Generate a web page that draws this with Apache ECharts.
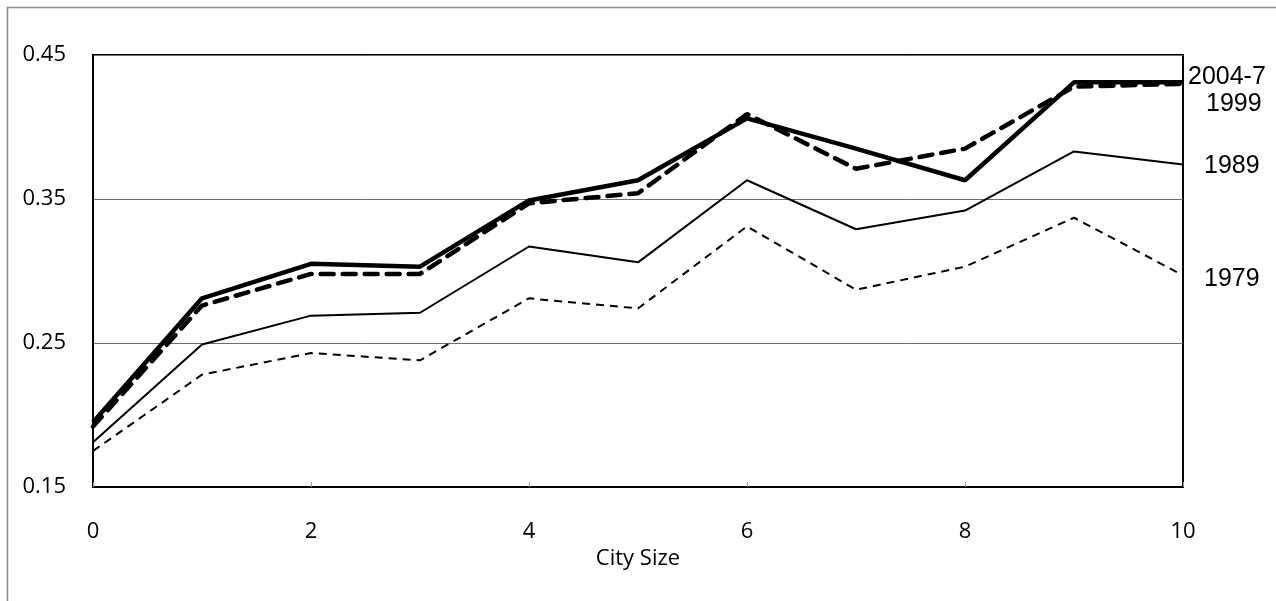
<!DOCTYPE html>
<html>
<head>
<meta charset="utf-8">
<script src="https://cdn.jsdelivr.net/npm/echarts@6/dist/echarts.min.js"></script>
<style>
  html, body { margin: 0; padding: 0; background: #fff; }
  #main { width: 1276px; height: 601px; }
</style>
</head>
<body>
<div id="main"></div>
<script>
// city size classes on the x axis
var citySize = [0, 1, 2, 3, 4, 5, 6, 7, 8, 9, 10];

// values, one per city size
var s2004 = [0.195, 0.281, 0.305, 0.303, 0.349, 0.363, 0.406, 0.385, 0.363, 0.431, 0.431];
var s1999 = [0.192, 0.276, 0.298, 0.298, 0.347, 0.354, 0.409, 0.371, 0.385, 0.428, 0.430];
var s1989 = [0.181, 0.249, 0.269, 0.271, 0.317, 0.306, 0.363, 0.329, 0.342, 0.383, 0.374];
var s1979 = [0.175, 0.228, 0.243, 0.238, 0.281, 0.274, 0.331, 0.287, 0.303, 0.337, 0.297];

var seriesNames = ['2004-7', '1999', '1989', '1979'];
var yTicks = [0.15, 0.25, 0.35, 0.45];

var pairs = function (vals) {
    return citySize.map(function (x, i) { return [x, vals[i]]; });
};

var tickFont = "'Open Sans', 'Liberation Sans', sans-serif";
var labelFont = "'Liberation Sans', Arial, sans-serif";

var endLabel = function (offset) {
    return {
        show: true,
        formatter: '{a}',
        color: '#000',
        fontFamily: labelFont,
        fontSize: 25,
        offset: offset
    };
};

var chart = echarts.init(document.getElementById('main'), null, { renderer: 'canvas' });

var option = {
    animation: false,
    backgroundColor: '#fff',
    grid: {
        left: 93, right: 93, top: 55, bottom: 114,
        show: true,
        borderColor: '#000',
        borderWidth: 2,
        containLabel: false
    },
    graphic: [{
        type: 'rect',
        left: 5, top: 5,
        shape: { width: 1270, height: 620 },
        style: { fill: 'none', stroke: '#8c8c8c', lineWidth: 1.5 },
        silent: true
    }],
    xAxis: {
        type: 'value',
        min: 0, max: 10, interval: 2,
        name: 'City Size',
        nameLocation: 'middle',
        nameGap: 48,
        nameTextStyle: { color: '#000', fontFamily: tickFont, fontSize: 22 },
        axisLine: { lineStyle: { color: '#000', width: 2 } },
        axisTick: { inside: true, length: 5, lineStyle: { color: '#999', width: 1 } },
        axisLabel: { color: '#000', fontFamily: tickFont, fontSize: 22, margin: 34 },
        splitLine: { show: false }
    },
    yAxis: {
        type: 'value',
        min: yTicks[0], max: yTicks[yTicks.length - 1], interval: 0.1,
        axisLine: { show: true, lineStyle: { color: '#000', width: 2 } },
        axisTick: { show: false },
        axisLabel: {
            color: '#000', fontFamily: tickFont, fontSize: 22, margin: 27,
            formatter: function (v) { return v.toFixed(2); }
        },
        splitLine: { show: true, lineStyle: { color: '#6e6e6e', width: 1 } }
    },
    series: [{
        name: seriesNames[3], type: 'line', data: pairs(s1979), symbol: 'none', z: 2,
        lineStyle: { color: '#000', width: 2, type: [8, 6] },
        endLabel: endLabel([13, 4])
    }, {
        name: seriesNames[2], type: 'line', data: pairs(s1989), symbol: 'none', z: 3,
        lineStyle: { color: '#000', width: 2 },
        endLabel: endLabel([13, 2])
    }, {
        name: seriesNames[1], type: 'line', data: pairs(s1999), symbol: 'none', z: 4,
        lineStyle: { color: '#000', width: 4.5, type: [13, 9], cap: 'round' },
        endLabel: endLabel([15, 20])
    }, {
        name: seriesNames[0], type: 'line', data: pairs(s2004), symbol: 'none', z: 5,
        lineStyle: { color: '#000', width: 4.5 },
        endLabel: endLabel([-3, -5])
    }]
};

chart.setOption(option);
</script>
</body>
</html>
